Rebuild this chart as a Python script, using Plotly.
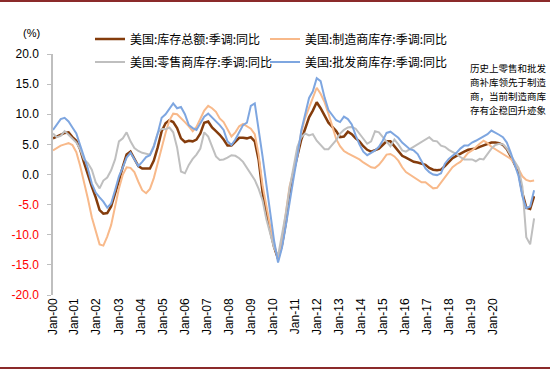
import numpy as np
import pandas as pd
import plotly.graph_objects as go

# bimonthly observations, Jan-2000 .. Sep-2020
dates = pd.date_range("2000-01-01", "2020-09-01", freq="2MS")

total_inv = [
    6.0, 6.3, 6.6, 6.9, 7.0, 6.2,
    5.6, 4.2, 2.0, -0.2, -2.0, -3.8,
    -5.9, -6.5, -6.4, -5.3, -3.3, -1.0,
    1.3, 3.3, 3.8, 2.6, 1.4, 1.0,
    1.0, 1.0, 2.3, 4.5, 7.2, 8.5,
    9.0, 8.7, 7.7, 6.0, 5.4, 5.6,
    5.5, 5.8, 6.8, 8.6, 8.8, 7.8,
    7.2, 6.6, 5.8, 4.8, 4.8, 5.5,
    6.1, 6.1, 6.0, 6.2, 5.5, 2.4,
    -2.9, -6.5, -9.4, -12.0, -14.0, -11.7,
    -8.0, -3.4, 0.4, 3.2, 5.8, 7.6,
    9.5, 10.6, 12.0, 11.0, 9.7, 8.6,
    7.9, 7.2, 6.2, 6.3, 7.1, 6.7,
    6.0, 5.5, 4.7, 4.1, 3.8, 4.0,
    4.3, 4.9, 5.5, 5.5, 4.7, 3.9,
    3.1, 2.8, 2.4, 2.1, 2.0, 1.8,
    1.6, 1.1, 0.8, 0.7, 0.8, 1.4,
    2.1, 2.7, 3.1, 3.5, 3.8, 4.1,
    4.2, 4.3, 4.6, 4.8, 5.1, 5.3,
    5.3, 5.2, 4.9, 4.2, 3.0, 1.6,
    0.4, -3.1, -5.5, -5.7, -3.6,
]

manufacturing_inv = [
    4.0, 4.4, 4.8, 5.0, 5.2, 4.9,
    3.7, 1.5, -1.0, -4.0, -7.1, -9.5,
    -11.6, -11.8, -10.3, -8.4, -5.3, -2.3,
    0.0, 1.2, 1.1, 0.4, -1.2, -2.6,
    -3.1, -2.4, -0.6, 2.0, 4.6, 6.9,
    9.0, 10.1, 10.0, 9.4, 8.7, 8.0,
    7.2, 7.9, 9.3, 10.6, 11.4, 11.0,
    10.4, 9.3, 8.7, 7.5, 6.3, 7.0,
    8.0, 8.4, 8.0, 7.6, 6.7, 3.3,
    -1.8, -5.4, -8.6, -11.5, -14.0, -11.0,
    -6.0, -2.0, 0.5, 3.3, 7.0, 9.4,
    11.1, 12.7, 14.4, 13.4, 12.0, 10.1,
    8.1, 5.9, 4.7, 3.9, 3.5, 3.2,
    2.8, 2.5, 2.0, 1.6, 1.2, 1.1,
    1.6, 2.4, 3.3, 3.4, 3.0, 2.3,
    1.2, 0.4, 0.0, -0.5, -0.9, -1.3,
    -1.3, -1.8, -2.3, -2.2, -1.3, -0.4,
    0.5, 1.2, 1.7, 2.1, 2.8, 3.6,
    4.0, 4.6, 5.1, 5.6, 5.2, 4.6,
    4.2, 3.9, 3.5, 3.1, 2.6, 1.8,
    0.9, -0.3, -0.9, -1.1, -1.0,
]

retail_inv = [
    6.8, 6.2, 6.4, 7.2, 6.6, 6.0,
    5.3, 4.2, 2.5, 1.9, 0.8, -1.3,
    -2.3, -1.0, -0.5, 0.7, 2.5, 5.5,
    6.0, 7.0, 5.5, 4.4, 3.9, 3.6,
    3.5, 3.3, 4.8, 6.9, 7.6, 7.5,
    7.8, 7.0, 4.5, 0.5, 0.2, 1.6,
    2.6, 3.3, 4.3, 7.0, 6.3, 4.7,
    3.0, 2.4, 2.5, 2.8, 3.2, 3.1,
    2.7, 2.1, 1.1, 0.2, -0.9, -2.4,
    -4.3, -7.4, -9.8, -12.2, -13.5, -10.3,
    -6.5, -2.3, 1.2, 4.6, 6.2, 6.8,
    6.5, 6.7, 5.6, 4.9, 4.2, 4.2,
    4.9, 5.7, 6.8, 7.4, 7.8, 7.9,
    7.6, 6.8, 6.0, 5.1, 5.5, 7.2,
    7.0, 6.3, 5.4, 4.7, 5.8, 5.0,
    4.0, 3.8, 4.2, 4.6, 5.0, 5.4,
    5.7, 6.2, 5.6, 5.5, 4.8, 4.6,
    4.1, 3.8, 3.4, 2.9, 2.5, 2.5,
    2.5, 2.2, 2.6, 2.5, 3.4, 4.3,
    4.9, 5.1, 5.0, 4.3, 3.2, 2.2,
    1.1, -2.0, -10.4, -11.6, -7.3,
]

wholesale_inv = [
    7.4, 8.4, 9.2, 9.4, 8.8, 7.8,
    6.8, 4.9, 3.0, 1.0, -1.5, -3.0,
    -3.8, -4.5, -5.5, -4.8, -2.6, -0.3,
    1.2, 2.8, 3.6, 2.6, 1.4, 2.1,
    2.9, 3.2, 4.6, 6.8, 9.4, 10.0,
    11.0, 11.8, 11.0, 11.2, 10.0, 8.2,
    7.7, 7.4, 8.5, 9.6, 10.1, 9.5,
    8.8, 8.2, 7.4, 5.5, 4.9, 5.8,
    7.0, 8.2, 8.6, 11.4, 11.8, 7.6,
    3.0, -1.6, -6.4, -11.0, -14.6, -12.2,
    -8.5, -4.4, -0.7, 3.0, 7.3, 10.0,
    12.7, 13.8, 16.0, 15.5, 12.8, 10.7,
    9.8, 9.0, 8.7, 9.6, 9.2, 8.3,
    6.5, 5.0, 3.8, 3.2, 3.6, 4.0,
    4.6, 5.6, 6.9, 7.1, 6.6, 6.1,
    5.3, 4.8, 4.2, 4.0, 3.4, 2.2,
    1.0, 0.4, 0.0, -0.1, 0.2, 1.8,
    2.6, 3.1, 3.6, 4.3, 4.8, 4.8,
    5.3, 5.6, 6.0, 6.3, 6.7, 7.3,
    7.0, 6.6, 6.2, 5.3, 3.6, 1.6,
    -0.3, -3.6, -5.6, -5.3, -2.6,
]

series_names = [
    "美国:库存总额:季调:同比",
    "美国:制造商库存:季调:同比",
    "美国:零售商库存:季调:同比",
    "美国:批发商库存:季调:同比",
]
series_values = [total_inv, manufacturing_inv, retail_inv, wholesale_inv]
series_colors = ["#843C0C", "#F8B98A", "#BFBFBF", "#7EA6E0"]
series_widths = [2.5, 2.0, 2.0, 2.0]
series_legend = ["legend", "legend2", "legend3", "legend4"]

x_tick_labels = ["Jan-%02d" % (y % 100) for y in range(2000, 2021)]
y_tick_values = [20, 15, 10, 5, 0, -5, -10, -15, -20]

note_lines = ["历史上零售和批发", "商补库领先于制造", "商，当前制造商库", "存有企稳回升迹象"]

# ---- geometry (pixels of the 550x370 page)
L, R, T, B = 53, 535, 54, 295
W, H = 550, 370
PW, PH = R - L, B - T


def px_x(xp):
    return (xp - L) / PW


def px_y(yp):
    return (B - yp) / PH


x_start = pd.Timestamp("2000-01-01")
x_end = pd.Timestamp("2020-09-15")
# labels in the source are spaced slightly tighter than the yearly ticks
label_step_years = 22.03 / 23.28
label_pos = [x_start + pd.Timedelta(days=max(0.0, k * label_step_years - 0.02) * 365.25)
             for k in range(len(x_tick_labels))]

fig = go.Figure()
for name, vals, col, w, lg in zip(series_names, series_values, series_colors,
                                  series_widths, series_legend):
    fig.add_trace(go.Scatter(x=dates, y=vals, mode="lines", name=name, legend=lg,
                             line=dict(color=col, width=w), hoverinfo="skip"))

ytext = []
for v in y_tick_values:
    s = "%.1f" % v
    ytext.append('<span style="color:#FF0000">%s</span>' % s if v < 0 else s)

axis_grey = "#BFBFBF"
legend_common = dict(orientation="h", xref="container", yref="container",
                     xanchor="left", yanchor="middle", itemwidth=30,
                     font=dict(family="Noto Sans CJK SC", size=12, color="black"),
                     bgcolor="rgba(0,0,0,0)")
col_x = [90 / W, 265 / W]
row_y = [1 - 39 / H, 1 - 62 / H]
fig.update_layout(
    width=W, height=H,
    margin=dict(l=L, r=W - R, t=T, b=H - B, autoexpand=False),
    paper_bgcolor="white", plot_bgcolor="white",
    font=dict(family="Liberation Sans, Arial, sans-serif", size=12, color="black"),
    showlegend=True,
    legend=dict(legend_common, x=col_x[0], y=row_y[0]),
    legend2=dict(legend_common, x=col_x[1], y=row_y[0]),
    legend3=dict(legend_common, x=col_x[0], y=row_y[1]),
    legend4=dict(legend_common, x=col_x[1], y=row_y[1]),
    xaxis=dict(type="date", range=[x_start, x_end], showgrid=False, zeroline=False,
               showline=False, ticks="", tickmode="array", tickvals=label_pos,
               ticktext=x_tick_labels, tickangle=-90, automargin=False,
               tickfont=dict(size=12, family="Liberation Sans, Arial, sans-serif")),
    xaxis2=dict(type="date", range=[x_start, x_end], overlaying="x", anchor="free",
                position=0.5, side="bottom", showgrid=False, zeroline=False,
                showline=True, linecolor=axis_grey, linewidth=1.5,
                ticks="inside", ticklen=3, tickcolor=axis_grey, tickwidth=1,
                tick0="2000-01-01", dtick="M12", showticklabels=False,
                layer="below traces", automargin=False),
    yaxis=dict(range=[-20, 20], tickmode="array", tickvals=y_tick_values, ticktext=ytext,
               showgrid=False, zeroline=False, showline=True, linecolor=axis_grey,
               linewidth=1.5, ticks="outside", ticklen=4, tickcolor=axis_grey,
               ticklabelstandoff=6, automargin=False,
               tickfont=dict(size=12, family="Liberation Sans, Arial, sans-serif")),
)

fig.add_annotation(text="(%)", xref="paper", yref="paper", x=px_x(31), y=px_y(33),
                   showarrow=False, xanchor="center", yanchor="middle",
                   font=dict(size=11, family="Liberation Sans, Arial, sans-serif"))
for i, line in enumerate(note_lines):
    fig.add_annotation(text=line, xref="paper", yref="paper", x=px_x(468),
                       y=px_y(68 + 14 * i), showarrow=False, xanchor="left",
                       yanchor="middle",
                       font=dict(size=9.5, family="Noto Sans CJK SC", color="black"))

# decorative page borders (top & bottom)
for ypix in (1, 368):
    fig.add_shape(type="line", xref="paper", yref="paper",
                  x0=px_x(0), x1=px_x(W), y0=px_y(ypix), y1=px_y(ypix),
                  line=dict(color="#8B2A2A", width=2))

# the page itself has no body margin in the source picture
fig.write_html("out.html", config={"displayModeBar": False},
               post_script="document.body.style.margin='0';document.body.style.overflow='hidden';")
